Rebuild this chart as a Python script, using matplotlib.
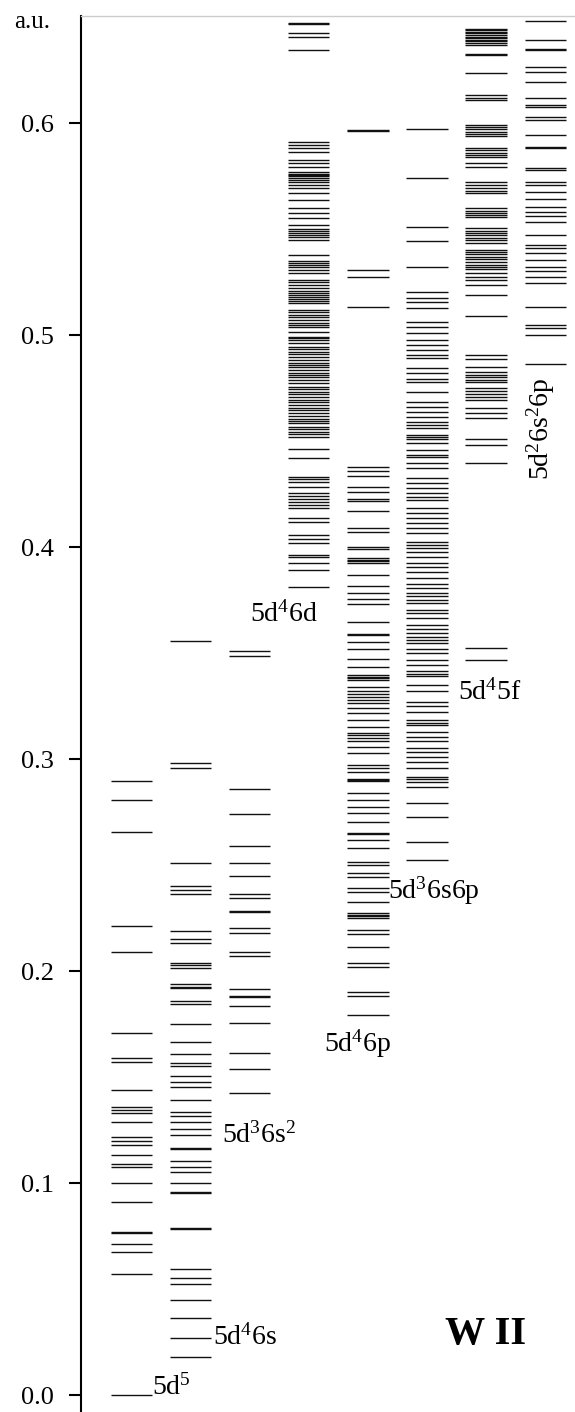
import numpy as np
import matplotlib
matplotlib.use("Agg")
import matplotlib.pyplot as plt

plt.rcParams['font.family'] = ['Liberation Serif', 'DejaVu Serif']
plt.rcParams['mathtext.fontset'] = 'custom'
plt.rcParams['mathtext.rm'] = 'Liberation Serif'
plt.rcParams['mathtext.it'] = 'Liberation Serif:italic'
plt.rcParams['mathtext.bf'] = 'Liberation Serif:bold'

# energy levels of W II configurations (a.u.)
lv_5d5 = [0.0, 0.0571, 0.0676, 0.0712, 0.0764, 0.0768, 0.0912, 0.100, 0.1076, 0.109,
          0.1132, 0.118, 0.1198, 0.1218, 0.129, 0.133, 0.1344, 0.136, 0.144, 0.157,
          0.159, 0.171, 0.209, 0.2214, 0.2656, 0.2807, 0.2896]

lv_5d46s = [0.018, 0.027, 0.0365, 0.0448, 0.0522, 0.055, 0.0593, 0.0783, 0.0787, 0.0953,
            0.0958, 0.100, 0.105, 0.1077, 0.1105, 0.116, 0.1165, 0.1226, 0.1255, 0.129,
            0.1318, 0.1335, 0.139, 0.1454, 0.1476, 0.1506, 0.1552, 0.1566, 0.1608, 0.1665,
            0.175, 0.1844, 0.1858, 0.192, 0.1925, 0.194, 0.2014, 0.2028, 0.204, 0.213,
            0.215, 0.219, 0.2363, 0.2382, 0.2401, 0.2508, 0.2956, 0.2983, 0.3558]

lv_5d36s2 = [0.1426, 0.1538, 0.1613, 0.1755, 0.1835, 0.1877, 0.1882, 0.1915, 0.207, 0.2091,
             0.218, 0.2203, 0.2277, 0.2282, 0.2346, 0.2363, 0.245, 0.2511, 0.259, 0.2741,
             0.2858, 0.3486, 0.351]

lv_5d46d = [0.3813, 0.3892, 0.3923, 0.3955, 0.3962, 0.4017, 0.4036, 0.4057, 0.4119, 0.4137,
            0.4184, 0.42, 0.4213, 0.4226, 0.424, 0.4255, 0.4284, 0.4308, 0.432, 0.4331,
            0.4421, 0.4462, 0.452, 0.4532, 0.4543, 0.4555, 0.4567, 0.4585, 0.4595, 0.4605,
            0.4618, 0.463, 0.4646, 0.4658, 0.467, 0.4682, 0.4693, 0.471, 0.472, 0.4733,
            0.4745, 0.4756, 0.4774, 0.479, 0.48, 0.481, 0.482, 0.4835, 0.4848, 0.486,
            0.487, 0.4882, 0.4898, 0.491, 0.492, 0.4932, 0.4945, 0.4962, 0.4975, 0.4984,
            0.4993, 0.5016, 0.5038, 0.5047, 0.5058, 0.507, 0.5085, 0.5094, 0.5108, 0.5118,
            0.515, 0.516, 0.5168, 0.518, 0.519, 0.52, 0.521, 0.522, 0.5236, 0.5248,
            0.526, 0.5292, 0.5307, 0.5322, 0.533, 0.5338, 0.5349, 0.5377, 0.545, 0.5461,
            0.5472, 0.548, 0.549, 0.55, 0.5519, 0.5552, 0.5575, 0.5599, 0.5637, 0.567,
            0.5692, 0.5708, 0.5722, 0.5731, 0.574, 0.5748, 0.5755, 0.5762, 0.577, 0.5794,
            0.581, 0.5828, 0.5865, 0.588, 0.5896, 0.5912, 0.6344, 0.6407, 0.6423, 0.6465,
            0.6472]

lv_5d46p = [0.1792, 0.1884, 0.1903, 0.2017, 0.2036, 0.2115, 0.2175, 0.2193, 0.225, 0.2258,
            0.2266, 0.2274, 0.2327, 0.2374, 0.2392, 0.2445, 0.2462, 0.25, 0.2516, 0.2579,
            0.2618, 0.2645, 0.2652, 0.2704, 0.2744, 0.2775, 0.2807, 0.2838, 0.2895, 0.2901,
            0.2907, 0.294, 0.2956, 0.2972, 0.3028, 0.3058, 0.3083, 0.3098, 0.3113, 0.3123,
            0.3153, 0.3184, 0.3217, 0.324, 0.3264, 0.3278, 0.3294, 0.3307, 0.332, 0.3341,
            0.3373, 0.338, 0.3389, 0.3396, 0.3434, 0.347, 0.352, 0.3553, 0.3585, 0.359,
            0.3648, 0.373, 0.3754, 0.3785, 0.3818, 0.3868, 0.3925, 0.3932, 0.394, 0.3948,
            0.3993, 0.3998, 0.4072, 0.4091, 0.417, 0.4219, 0.4225, 0.4258, 0.4281, 0.4336,
            0.436, 0.4379, 0.5133, 0.5275, 0.5307, 0.5962, 0.5968]

lv_5d36s6p = [0.2524, 0.2611, 0.2728, 0.2791, 0.287, 0.2893, 0.2905, 0.2917, 0.2956, 0.2988,
              0.3011, 0.3035, 0.3052, 0.3083, 0.3102, 0.3129, 0.316, 0.3172, 0.3184, 0.3224,
              0.3248, 0.3271, 0.3322, 0.335, 0.339, 0.3402, 0.3415, 0.3443, 0.3467, 0.35,
              0.352, 0.3546, 0.3562, 0.3577, 0.3594, 0.3613, 0.3632, 0.3665, 0.369, 0.3705,
              0.3736, 0.375, 0.3767, 0.3783, 0.3807, 0.3826, 0.3854, 0.3884, 0.3905, 0.3925,
              0.3955, 0.3978, 0.3995, 0.401, 0.4026, 0.4064, 0.4088, 0.4113, 0.4136, 0.416,
              0.4184, 0.4222, 0.4238, 0.4255, 0.428, 0.430, 0.4325, 0.4371, 0.4395, 0.4426,
              0.4434, 0.4458, 0.4489, 0.4512, 0.452, 0.4528, 0.456, 0.4575, 0.4591, 0.4615,
              0.4638, 0.4662, 0.4686, 0.4733, 0.478, 0.4795, 0.4819, 0.4843, 0.489, 0.4906,
              0.4929, 0.4953, 0.4976, 0.5008, 0.504, 0.5063, 0.5129, 0.5154, 0.5173, 0.5204,
              0.5322, 0.5445, 0.5511, 0.5742, 0.597]

lv_5d45f = [0.3465, 0.3525, 0.4395, 0.448, 0.451, 0.4608, 0.4632, 0.4654, 0.4693, 0.4708,
            0.4722, 0.4736, 0.475, 0.478, 0.479, 0.480, 0.4812, 0.4827, 0.4851, 0.4887,
            0.4906, 0.509, 0.5189, 0.5236, 0.5259, 0.5274, 0.5295, 0.531, 0.532, 0.533,
            0.5345, 0.536, 0.537, 0.538, 0.539, 0.540, 0.5434, 0.5447, 0.546, 0.547,
            0.548, 0.5492, 0.5505, 0.5557, 0.5566, 0.5575, 0.5587, 0.5599, 0.5668, 0.568,
            0.5696, 0.5709, 0.5723, 0.5792, 0.581, 0.584, 0.585, 0.586, 0.5871, 0.5882,
            0.5937, 0.5948, 0.596, 0.597, 0.598, 0.599, 0.6108, 0.612, 0.6132, 0.6234,
            0.632, 0.6327, 0.637, 0.6378, 0.6385, 0.6393, 0.640, 0.6408, 0.6415, 0.6423,
            0.643, 0.6437, 0.6443]

lv_5d26s26p = [0.4862, 0.50, 0.5031, 0.5047, 0.5133, 0.5244, 0.5275, 0.53, 0.5322, 0.5354,
               0.5385, 0.541, 0.5425, 0.5472, 0.5532, 0.556, 0.5582, 0.5605, 0.5642, 0.5677,
               0.5708, 0.5723, 0.578, 0.5788, 0.588, 0.5885, 0.5943, 0.6014, 0.603, 0.6078,
               0.6085, 0.612, 0.6192, 0.624, 0.6266, 0.6344, 0.635, 0.639, 0.648]

columns = [lv_5d5, lv_5d46s, lv_5d36s2, lv_5d46d, lv_5d46p, lv_5d36s6p, lv_5d45f, lv_5d26s26p]

# label text, x position (column units), y position (a.u.)
labels = [
    (r'$\mathrm{5d^{5}}$', 0.35, 0.0),
    (r'$\mathrm{5d^{4}6s}$', 1.38, 0.024),
    (r'$\mathrm{5d^{3}6s^{2}}$', 1.54, 0.119),
    (r'$\mathrm{5d^{4}6d}$', 2.0, 0.365),
    (r'$\mathrm{5d^{4}6p}$', 3.26, 0.162),
    (r'$\mathrm{5d^{3}6s6p}$', 4.34, 0.234),
    (r'$\mathrm{5d^{4}5f}$', 5.52, 0.328),
]

half = 0.35

fig = plt.figure(figsize=(5.75, 14.12), dpi=100)
ax = fig.add_axes([81 / 575, 0.0, 1 - 81 / 575, 1 - 16 / 1412])

for i, lv in enumerate(columns):
    ax.hlines(lv, i - half, i + half, color='#111111', lw=1.0)

for txt, x, y in labels:
    ax.text(x, y, txt, fontsize=20, ha='left', va='baseline')

ax.text(6.93, 0.480, r'$\mathrm{5d^{2}6s^{2}6p}$', fontsize=20, rotation=90,
        ha='center', va='top')
ax.text(5.3, 0.024, 'W II', fontsize=29, fontweight='bold', ha='left', va='baseline')

ax.set_xlim(-0.854, 7.504)
ax.set_ylim(-0.008, 0.6505)
ax.set_yticks(np.arange(0, 0.61, 0.1))
ax.set_yticklabels(['0.0', '0.1', '0.2', '0.3', '0.4', '0.5', '0.6'])
ax.set_xticks([])
ax.tick_params(axis='y', direction='out', length=8.5, width=1.5, pad=11, labelsize=19)

ax.spines['left'].set_linewidth(1.5)
ax.spines['top'].set_color('#cccccc')
ax.spines['top'].set_linewidth(1)
ax.spines['right'].set_visible(False)
ax.spines['bottom'].set_visible(False)

fig.text(14 / 575, 1 - 28 / 1412, 'a.u.', fontsize=18, ha='left', va='baseline')

fig.savefig('out.png', dpi=100)
